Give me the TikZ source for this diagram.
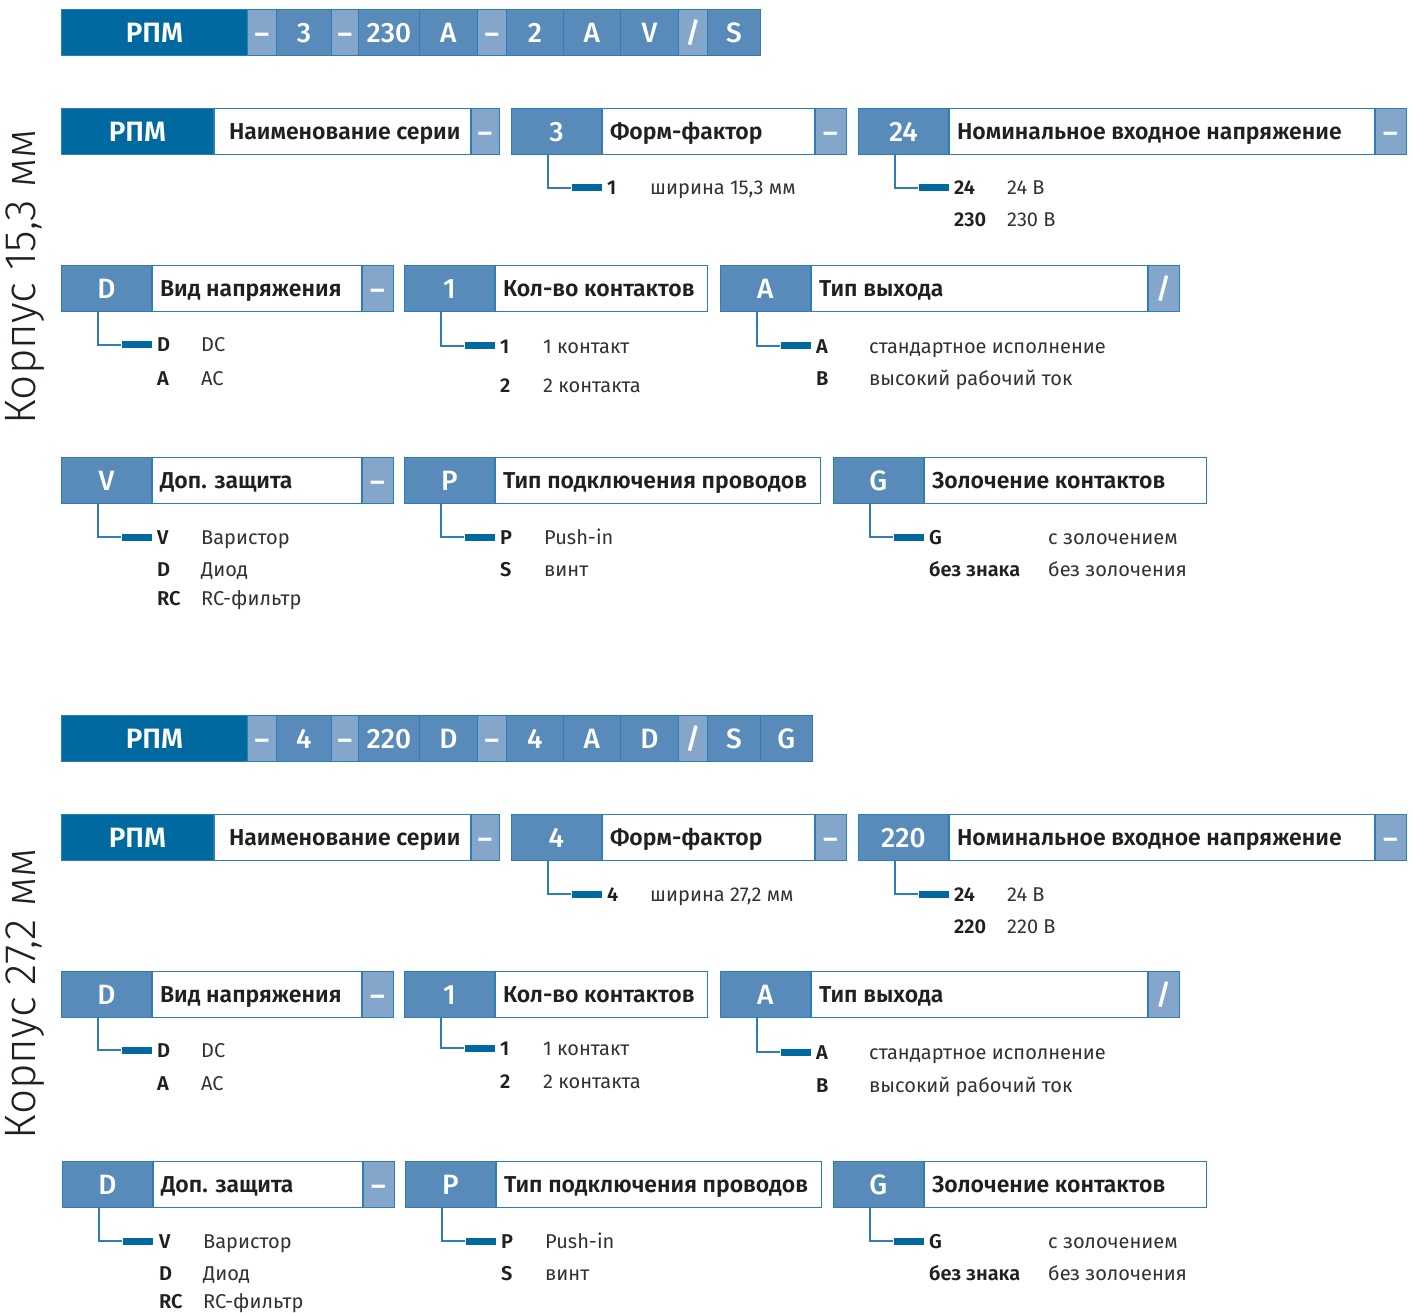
\documentclass[tikz,border=0pt]{standalone}
\usepackage{fontspec}
\setmainfont{Fira Sans}
\newfontfamily\medfont{Fira Sans Medium}
\newfontfamily\semifont{Fira Sans SemiBold}
\newfontfamily\lightfont{Fira Sans Light}
\definecolor{dblue}{RGB}{0,106,160}
\definecolor{mblue}{RGB}{88,139,186}
\definecolor{lblue}{RGB}{132,166,203}
\definecolor{bline}{RGB}{45,125,182}
\definecolor{txt}{RGB}{35,31,32}
\definecolor{txtl}{RGB}{50,50,50}
\tikzset{
 cell/.style={draw=bline, line width=0.8pt, minimum height=46pt, inner sep=0pt, anchor=north west, text=white, text height=22pt, text depth=2pt},
 dcell/.style={cell, fill=dblue, font=\fontsize{28}{30}\semifont},
 mcell/.style={cell, fill=mblue, font=\fontsize{28}{30}\medfont},
 lcell/.style={cell, fill=lblue, font=\fontsize{28}{30}\semifont},
 wcell/.style={cell, fill=white},
 labtext/.style={anchor=base west, inner sep=0pt, text=txt, font=\fontsize{23}{26}\semifont},
 barbox/.style={fill=dblue, minimum width=30pt, minimum height=7pt, inner sep=0pt, anchor=east},
 conn/.style={draw=bline, line width=1.1pt},
 optcode/.style={anchor=base west, inner sep=0pt, text=txt, font=\fontsize{20}{24}\semifont},
 optdesc/.style={anchor=base west, inner sep=0pt, text=txtl, font=\fontsize{20}{24}\selectfont},
 sidelabel/.style={rotate=90, inner sep=0pt, text=txt, font=\fontsize{44}{46}\lightfont},
}
\newcommand\dash{\raisebox{-1pt}{–}}
% style, name, x, y, codewidth, code, labelwidth, label, textshift
\newcommand\fld[9]{%
 \node[#1, minimum width=#5] (#2c) at (#3,#4) {#6};
 \node[wcell, minimum width=#7] (#2l) at (#2c.north east) {};
 \node[labtext] (#2t) at ([xshift=#9,yshift=-8]#2l.west) {#8};}
\newcommand\sepc[3]{\node[lcell, minimum width=#2] (#1s) at (#1l.north east) {#3};}
\newcommand\barline[2]{%
 \node[barbox] (#1bar) at (#1c.east |- 0,#2) {};
 \draw[conn] ([xshift=37]#1c.south west) |- (#1bar.west);}
\newcommand\optline[6]{%
 \node[optcode] (#1code) at (#3,#2+7) {#4};
 \node[optdesc] (#1desc) at (#5,#2+7) {#6};}
\begin{document}
\begin{tikzpicture}[x=1pt,y=-1pt]
\useasboundingbox[fill=white] (0,0) rectangle (1413,1313);
% ================= Section 1 =================
\foreach \a/\b/\t/\s [count=\i] in {61/247/РПМ/dcell,247/276/\dash/lcell,276/331/3/mcell,331/358/\dash/lcell,358/419/230/mcell,419/477/A/mcell,477/506/\dash/lcell,506/563/2/mcell,563/620/A/mcell,620/678/V/mcell,678/707/\slash/lcell,707/760/S/mcell}
 \node[\s, minimum width=\b-\a] (ta\i) at (\a,9) {\t};
\node[sidelabel] (side1) at (25,277) {Корпус 15,3 мм};
% row 1
\fld{dcell}{s1a}{61}{108}{152}{РПМ}{256}{Наименование серии}{15}
\sepc{s1a}{28}{\dash}
\fld{mcell}{s1b}{511}{108}{90}{3}{212}{Форм-фактор}{8}
\sepc{s1b}{31}{\dash}
\fld{mcell}{s1c}{858}{108}{90}{24}{425}{Номинальное входное напряжение}{8}
\sepc{s1c}{31}{\dash}
\barline{s1b}{188}
\optline{s1b1}{188}{607}{1}{650}{ширина 15,3 мм}
\barline{s1c}{188}
\optline{s1c1}{188}{954}{24}{1007}{24 В}
\optline{s1c2}{220}{954}{230}{1007}{230 В}
% row 2
\fld{mcell}{s1d}{61}{265}{90}{D}{209}{Вид напряжения}{8}
\sepc{s1d}{31}{\dash}
\fld{mcell}{s1e}{404}{265}{90}{1}{212}{Кол-во контактов}{8}
\fld{mcell}{s1f}{720}{265}{90}{A}{336}{Тип выхода}{8}
\sepc{s1f}{31}{/}
\barline{s1d}{345}
\optline{s1d1}{345}{157}{D}{201}{DC}
\optline{s1d2}{378}{157}{A}{201}{AC}
\barline{s1e}{346}
\optline{s1e1}{346}{500}{1}{543}{1 контакт}
\optline{s1e2}{385}{500}{2}{543}{2 контакта}
\barline{s1f}{346}
\optline{s1f1}{346}{816}{A}{869}{стандартное исполнение}
\optline{s1f2}{378}{816}{B}{869}{высокий рабочий ток}
% row 3
\fld{mcell}{s1g}{61}{457}{90}{V}{209}{Доп. защита}{8}
\sepc{s1g}{31}{\dash}
\fld{mcell}{s1h}{404}{457}{90}{P}{325}{Тип подключения проводов}{8}
\fld{mcell}{s1i}{833}{457}{90}{G}{282}{Золочение контактов}{8}
\barline{s1g}{537}
\optline{s1g1}{537}{157}{V}{201}{Варистор}
\optline{s1g2}{569}{157}{D}{201}{Диод}
\optline{s1g3}{598}{157}{RC}{201}{RC-фильтр}
\barline{s1h}{537}
\optline{s1h1}{537}{500}{P}{544}{Push-in}
\optline{s1h2}{569}{500}{S}{544}{винт}
\barline{s1i}{537}
\optline{s1i1}{537}{929}{G}{1048}{с золочением}
\optline{s1i2}{569}{929}{без знака}{1048}{без золочения}
% ================= Section 2 =================
\foreach \a/\b/\t/\s [count=\i] in {61/247/РПМ/dcell,247/276/\dash/lcell,276/331/4/mcell,331/358/\dash/lcell,358/419/220/mcell,419/477/D/mcell,477/506/\dash/lcell,506/563/4/mcell,563/620/A/mcell,620/678/D/mcell,678/707/\slash/lcell,707/760/S/mcell,760/812/G/mcell}
 \node[\s, minimum width=\b-\a] (tb\i) at (\a,715) {\t};
\node[sidelabel] (side2) at (25,994) {Корпус 27,2 мм};
% row 1
\fld{dcell}{s2a}{61}{814}{152}{РПМ}{256}{Наименование серии}{15}
\sepc{s2a}{28}{\dash}
\fld{mcell}{s2b}{511}{814}{90}{4}{212}{Форм-фактор}{8}
\sepc{s2b}{31}{\dash}
\fld{mcell}{s2c}{858}{814}{90}{220}{425}{Номинальное входное напряжение}{8}
\sepc{s2c}{31}{\dash}
\barline{s2b}{894}
\optline{s2b1}{894}{607}{4}{650}{ширина 27,2 мм}
\barline{s2c}{894}
\optline{s2c1}{894}{954}{24}{1007}{24 В}
\optline{s2c2}{926}{954}{220}{1007}{220 В}
% row 2
\fld{mcell}{s2d}{61}{971}{90}{D}{209}{Вид напряжения}{8}
\sepc{s2d}{31}{\dash}
\fld{mcell}{s2e}{404}{971}{90}{1}{212}{Кол-во контактов}{8}
\fld{mcell}{s2f}{720}{971}{90}{A}{336}{Тип выхода}{8}
\sepc{s2f}{31}{/}
\barline{s2d}{1050}
\optline{s2d1}{1050}{157}{D}{201}{DC}
\optline{s2d2}{1083}{157}{A}{201}{AC}
\barline{s2e}{1048}
\optline{s2e1}{1048}{500}{1}{543}{1 контакт}
\optline{s2e2}{1081}{500}{2}{543}{2 контакта}
\barline{s2f}{1052}
\optline{s2f1}{1052}{816}{A}{869}{стандартное исполнение}
\optline{s2f2}{1085}{816}{B}{869}{высокий рабочий ток}
% row 3
\fld{mcell}{s2g}{62}{1161}{90}{D}{209}{Доп. защита}{8}
\sepc{s2g}{31}{\dash}
\fld{mcell}{s2h}{405}{1161}{90}{P}{325}{Тип подключения проводов}{8}
\fld{mcell}{s2i}{833}{1161}{90}{G}{282}{Золочение контактов}{8}
\barline{s2g}{1241}
\optline{s2g1}{1241}{159}{V}{203}{Варистор}
\optline{s2g2}{1273}{159}{D}{203}{Диод}
\optline{s2g3}{1301}{159}{RC}{203}{RC-фильтр}
\barline{s2h}{1241}
\optline{s2h1}{1241}{501}{P}{545}{Push-in}
\optline{s2h2}{1273}{501}{S}{545}{винт}
\barline{s2i}{1241}
\optline{s2i1}{1241}{929}{G}{1048}{с золочением}
\optline{s2i2}{1273}{929}{без знака}{1048}{без золочения}
\end{tikzpicture}
\end{document}
